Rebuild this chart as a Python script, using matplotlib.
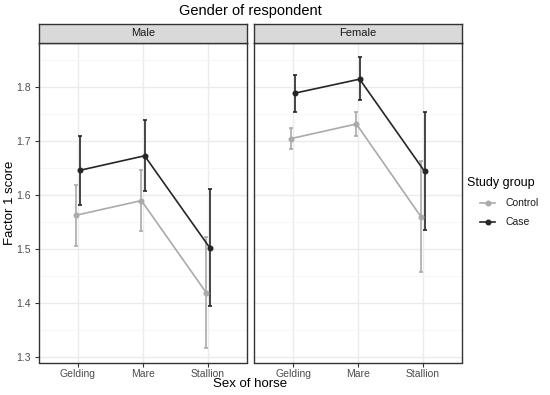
import matplotlib
matplotlib.use("Agg")
import matplotlib.pyplot as plt
from matplotlib.lines import Line2D
import numpy as np

plt.rcParams['font.family'] = ['Liberation Sans', 'DejaVu Sans']

categories = ["Gelding", "Mare", "Stallion"]
panels = ["Male", "Female"]
groups = ["Control", "Case"]

male_control = [1.562, 1.589, 1.418]
male_control_lo = [1.505, 1.532, 1.316]
male_control_hi = [1.618, 1.645, 1.521]
male_case = [1.645, 1.672, 1.502]
male_case_lo = [1.581, 1.606, 1.393]
male_case_hi = [1.709, 1.739, 1.611]

female_control = [1.704, 1.731, 1.558]
female_control_lo = [1.684, 1.708, 1.456]
female_control_hi = [1.723, 1.753, 1.662]
female_case = [1.788, 1.814, 1.643]
female_case_lo = [1.753, 1.775, 1.534]
female_case_hi = [1.822, 1.855, 1.754]

data = {
    "Male": {"Control": (male_control, male_control_lo, male_control_hi),
             "Case": (male_case, male_case_lo, male_case_hi)},
    "Female": {"Control": (female_control, female_control_lo, female_control_hi),
               "Case": (female_case, female_case_lo, female_case_hi)},
}
colors = {"Control": "#aaaaaa", "Case": "#262626"}
offsets = {"Control": -0.025, "Case": 0.025}

W, H = 550, 395
fig = plt.figure(figsize=(5.5, 3.95), dpi=100)

def fx(px):
    return px / W

def fy(py):
    return 1 - py / H

panel_lefts = [39, 254]
pw = 208
ptop, pbot = 43, 362.5
strip_top = 24

for i, pname in enumerate(panels):
    l = panel_lefts[i]
    ax = fig.add_axes([fx(l), fy(pbot), pw / W, (pbot - ptop) / H])
    ax.set_facecolor("white")
    x = np.arange(len(categories))
    for g in groups:
        m, lo, hi = data[pname][g]
        xs = x + offsets[g]
        m = np.array(m); lo = np.array(lo); hi = np.array(hi)
        ax.errorbar(xs, m, yerr=[m - lo, hi - m], color=colors[g], lw=1.2,
                    marker="o", ms=3.3, capsize=1.6, capthick=1.2, elinewidth=1.2, zorder=3)
    ax.set_xlim(-0.6, 2.6)
    ax.set_ylim(1.289, 1.881)
    ax.set_xticks(x)
    ax.set_xticklabels(categories)
    ax.set_yticks([1.3, 1.4, 1.5, 1.6, 1.7, 1.8])
    ax.set_yticks([1.35, 1.45, 1.55, 1.65, 1.75, 1.85], minor=True)
    ax.set_xticks([], minor=True)
    ax.grid(which="major", color="#ebebeb", lw=1.0, zorder=0)
    ax.grid(which="minor", axis="y", color="#f5f5f5", lw=0.6, zorder=0)
    ax.set_axisbelow(True)
    ax.tick_params(axis="both", which="major", length=3, width=0.8, color="#333333",
                   labelcolor="#4d4d4d", labelsize=7.5, pad=2)
    ax.tick_params(axis="y", which="major", pad=3)
    ax.tick_params(axis="y", which="minor", length=0)
    if i == 1:
        ax.tick_params(axis="y", which="major", left=False, labelleft=False)
    for s in ax.spines.values():
        s.set_color("#333333")
        s.set_linewidth(1.0)
    # strip
    sax = fig.add_axes([fx(l), fy(ptop), pw / W, (ptop - strip_top) / H])
    sax.set_facecolor("#d9d9d9")
    sax.set_xticks([]); sax.set_yticks([])
    for s in sax.spines.values():
        s.set_color("#333333")
        s.set_linewidth(1.0)
    sax.text(0.5, 0.5, pname, ha="center", va="center", fontsize=8, color="#1a1a1a",
             transform=sax.transAxes)

fig.text(fx(250), fy(11), "Gender of respondent", ha="center", va="center", fontsize=10.5)
fig.text(fx(250), fy(384), "Sex of horse", ha="center", va="center", fontsize=9.5)
fig.text(fx(10), fy(203), "Factor 1 score", ha="center", va="center", fontsize=9.5, rotation=90)

# legend
fig.text(fx(467), fy(183), "Study group", ha="left", va="center", fontsize=9)
for k, g in enumerate(groups):
    yy = 203 + k * 19
    lx = [fx(480), fx(495)]
    fig.add_artist(Line2D(lx, [fy(yy), fy(yy)], color=colors[g], lw=1.2,
                          transform=fig.transFigure))
    fig.add_artist(Line2D([fx(487.5)], [fy(yy)], color=colors[g], marker="o", ms=3.3,
                          transform=fig.transFigure))
    fig.text(fx(505), fy(yy), g, ha="left", va="center", fontsize=7.5, color="#1a1a1a")

fig.savefig("out.png", dpi=100)
